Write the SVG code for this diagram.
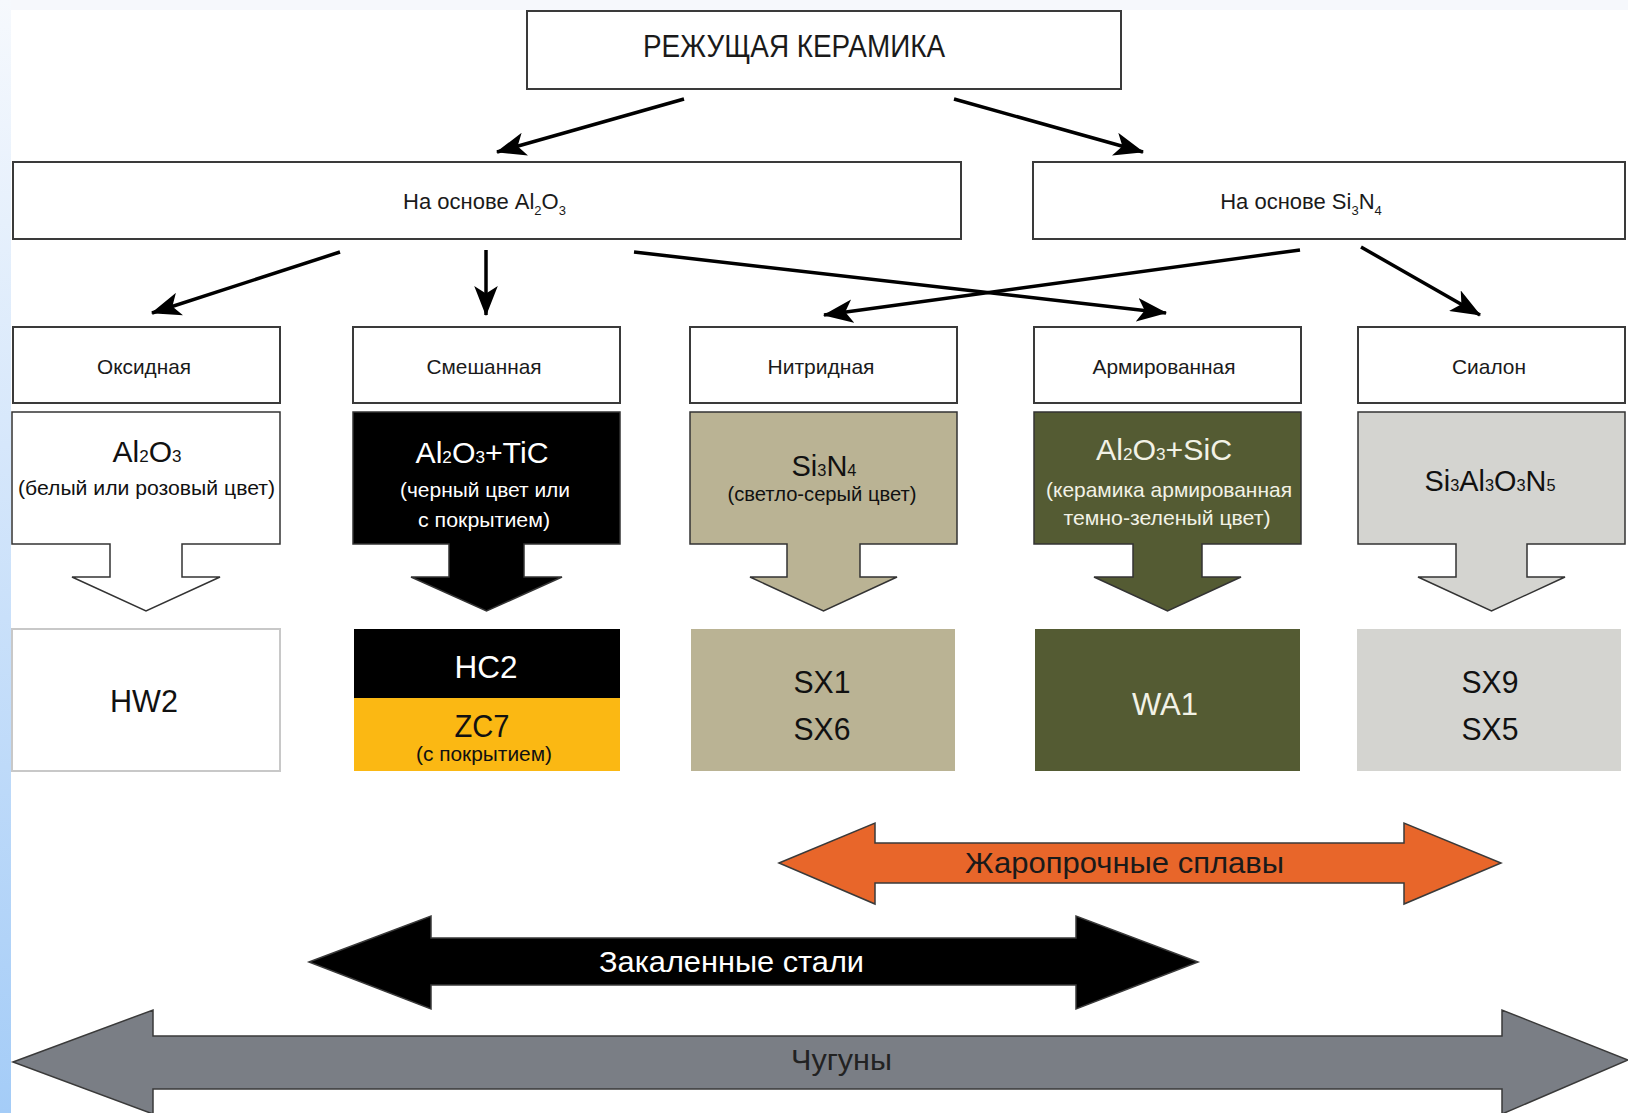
<svg xmlns="http://www.w3.org/2000/svg" width="1628" height="1113" viewBox="0 0 1628 1113">
<defs>
<linearGradient id="strip" x1="0" y1="0" x2="0" y2="1">
<stop offset="0" stop-color="#f6f9fd"/>
<stop offset="0.4" stop-color="#d6e7fb"/>
<stop offset="1" stop-color="#a4ccf7"/>
</linearGradient>
<marker id="ah" markerUnits="userSpaceOnUse" markerWidth="30" markerHeight="24" viewBox="0 0 28 22" refX="27" refY="11" orient="auto">
<path d="M0,0 L28,11 L0,22 L7,11 Z" fill="#000"/>
</marker>
<style>
text{font-family:"Liberation Sans",Arial,sans-serif;text-anchor:middle;}
.box{fill:#fff;stroke:#3a3a3a;stroke-width:2;}
.lbl{font-size:21px;fill:#1a1a1a;}
.l2{font-size:22px;fill:#1a1a1a;}
.big{font-size:30px;}
.sm{font-size:21px;}
.code{font-size:32px;}
.blk{stroke:#333;stroke-width:1.5;}
.con{stroke:#000;stroke-width:3.5;fill:none;marker-end:url(#ah);}
.band{stroke:#3a3a3a;stroke-width:1.5;}
</style>
</defs>
<rect x="0" y="0" width="1628" height="1113" fill="#f6f8fc"/>
<rect x="0" y="0" width="11" height="1113" fill="url(#strip)"/>
<rect x="11" y="10" width="1617" height="1103" fill="#fff"/>

<g id="connectors">
<line class="con" x1="684" y1="99" x2="497" y2="152"/>
<line class="con" x1="954" y1="99" x2="1143" y2="152"/>
<line class="con" x1="340" y1="252" x2="152" y2="313"/>
<line class="con" x1="486" y1="250" x2="486" y2="315"/>
<line class="con" x1="634" y1="252" x2="1166" y2="313"/>
<line class="con" x1="1300" y1="250" x2="824" y2="315"/>
<line class="con" x1="1361" y1="247" x2="1480" y2="315"/>
</g>

<g id="root">
<rect class="box" x="527" y="11" width="594" height="78"/>
<text x="794" y="57" font-size="32" fill="#1a1a1a" textLength="302" lengthAdjust="spacingAndGlyphs">РЕЖУЩАЯ КЕРАМИКА</text>
</g>

<g id="al2o3-base">
<rect class="box" x="13" y="162" width="948" height="77"/>
<text class="l2" x="484.5" y="209">На основе Al<tspan font-size="13" baseline-shift="-6">2</tspan>O<tspan font-size="13" baseline-shift="-6">3</tspan></text>
</g>

<g id="si3n4-base">
<rect class="box" x="1033" y="162" width="592" height="77"/>
<text class="l2" x="1301" y="209">На основе Si<tspan font-size="13" baseline-shift="-6">3</tspan>N<tspan font-size="13" baseline-shift="-6">4</tspan></text>
</g>

<g id="oxide">
<rect class="box" x="13" y="327" width="267" height="76"/>
<text class="lbl" x="144" y="374" textLength="94" lengthAdjust="spacingAndGlyphs">Оксидная</text>
<path class="blk" fill="#fff" d="M12,412 H280 V544 H182 V577 H220 L146,611 L72,577 H110 V544 H12 Z"/>
<text class="big" x="147" y="462" fill="#111">Al<tspan font-size="17">2</tspan>O<tspan font-size="17">3</tspan></text>
<text class="sm" x="146.5" y="495" fill="#111" textLength="257" lengthAdjust="spacingAndGlyphs">(белый или розовый цвет)</text>
<rect x="12" y="629" width="268" height="142" fill="#fff" stroke="#c8c8c8" stroke-width="2"/>
<text class="code" x="144" y="712" fill="#111" textLength="68" lengthAdjust="spacingAndGlyphs">HW2</text>
</g>

<g id="mixed">
<rect class="box" x="353" y="327" width="267" height="76"/>
<text class="lbl" x="484" y="374" textLength="115" lengthAdjust="spacingAndGlyphs">Смешанная</text>
<path class="blk" fill="#000" d="M353,412 H620 V544 H524 V577 H562 L486.5,611 L411,577 H449 V544 H353 Z"/>
<text class="big" x="482" y="463" fill="#fff" textLength="133" lengthAdjust="spacingAndGlyphs">Al<tspan font-size="17">2</tspan>O<tspan font-size="17">3</tspan>+TiC</text>
<text class="sm" x="485" y="497" fill="#fff" textLength="170" lengthAdjust="spacingAndGlyphs">(черный цвет или</text>
<text class="sm" x="484" y="527" fill="#fff" textLength="132" lengthAdjust="spacingAndGlyphs">с покрытием)</text>
<rect x="354" y="629" width="266" height="70" fill="#000"/>
<rect x="354" y="698" width="266" height="73" fill="#fbb813"/>
<text class="code" x="486" y="678" fill="#fff" textLength="63" lengthAdjust="spacingAndGlyphs">HC2</text>
<text class="code" x="482" y="737" fill="#111" textLength="55" lengthAdjust="spacingAndGlyphs">ZC7</text>
<text x="484" y="761" font-size="20" fill="#111" textLength="136" lengthAdjust="spacingAndGlyphs">(с покрытием)</text>
</g>

<g id="nitride">
<rect class="box" x="690" y="327" width="267" height="76"/>
<text class="lbl" x="821" y="374" textLength="107" lengthAdjust="spacingAndGlyphs">Нитридная</text>
<path class="blk" fill="#bab394" d="M690,412 H957 V544 H860 V577 H897 L823.5,611 L750,577 H787 V544 H690 Z"/>
<text class="big" x="824" y="476" fill="#111" textLength="65" lengthAdjust="spacingAndGlyphs">Si<tspan font-size="17">3</tspan>N<tspan font-size="17">4</tspan></text>
<text class="sm" x="822" y="501" fill="#111" textLength="189" lengthAdjust="spacingAndGlyphs">(светло-серый цвет)</text>
<rect x="691" y="629" width="264" height="142" fill="#bab394"/>
<text class="code" x="822" y="693" fill="#111" textLength="57" lengthAdjust="spacingAndGlyphs">SX1</text>
<text class="code" x="822" y="740" fill="#111" textLength="57" lengthAdjust="spacingAndGlyphs">SX6</text>
</g>

<g id="reinforced">
<rect class="box" x="1034" y="327" width="267" height="76"/>
<text class="lbl" x="1164" y="374" textLength="143" lengthAdjust="spacingAndGlyphs">Армированная</text>
<path class="blk" fill="#545b33" d="M1034,412 H1301 V544 H1202 V577 H1241 L1167.5,611 L1094,577 H1133 V544 H1034 Z"/>
<text class="big" x="1164" y="460" fill="#f2f2e6" textLength="136" lengthAdjust="spacingAndGlyphs">Al<tspan font-size="17">2</tspan>O<tspan font-size="17">3</tspan>+SiC</text>
<text class="sm" x="1169" y="497" fill="#f2f2e6" textLength="246" lengthAdjust="spacingAndGlyphs">(керамика армированная</text>
<text class="sm" x="1167" y="525" fill="#f2f2e6" textLength="207" lengthAdjust="spacingAndGlyphs">темно-зеленый цвет)</text>
<rect x="1035" y="629" width="265" height="142" fill="#545b33"/>
<text class="code" x="1165" y="715" fill="#f2f2e6" textLength="66" lengthAdjust="spacingAndGlyphs">WA1</text>
</g>

<g id="sialon">
<rect class="box" x="1358" y="327" width="267" height="76"/>
<text class="lbl" x="1489" y="374" textLength="74" lengthAdjust="spacingAndGlyphs">Сиалон</text>
<path class="blk" fill="#d4d4d0" d="M1358,412 H1625 V544 H1527 V577 H1565 L1491.5,611 L1418,577 H1456 V544 H1358 Z"/>
<text class="big" x="1490" y="491" fill="#111" textLength="131" lengthAdjust="spacingAndGlyphs">Si<tspan font-size="17">3</tspan>Al<tspan font-size="17">3</tspan>O<tspan font-size="17">3</tspan>N<tspan font-size="17">5</tspan></text>
<rect x="1357" y="629" width="264" height="142" fill="#d4d4d0"/>
<text class="code" x="1490" y="693" fill="#111" textLength="57" lengthAdjust="spacingAndGlyphs">SX9</text>
<text class="code" x="1490" y="740" fill="#111" textLength="57" lengthAdjust="spacingAndGlyphs">SX5</text>
</g>

<g id="heat-resistant">
<polygon class="band" fill="#e8662a" points="779,863 875,823 875,843 1404,843 1404,823 1501,863 1404,904 1404,883 875,883 875,904"/>
<text x="1124.5" y="873" font-size="30" fill="#1a1a1a" textLength="319" lengthAdjust="spacingAndGlyphs">Жаропрочные сплавы</text>
</g>

<g id="hardened-steel">
<polygon class="band" fill="#000" points="309,962 431,916 431,938 1076,938 1076,916 1198,962 1076,1009 1076,985 431,985 431,1009"/>
<text x="731.5" y="972" font-size="30" fill="#fff" textLength="265" lengthAdjust="spacingAndGlyphs">Закаленные стали</text>
</g>

<g id="cast-iron">
<polygon class="band" fill="#7a7e85" points="13,1062 153,1010 153,1036 1502,1036 1502,1010 1628,1060 1502,1114 1502,1089 153,1089 153,1114"/>
<text x="841.5" y="1070" font-size="30" fill="#222" textLength="101" lengthAdjust="spacingAndGlyphs">Чугуны</text>
</g>
</svg>
